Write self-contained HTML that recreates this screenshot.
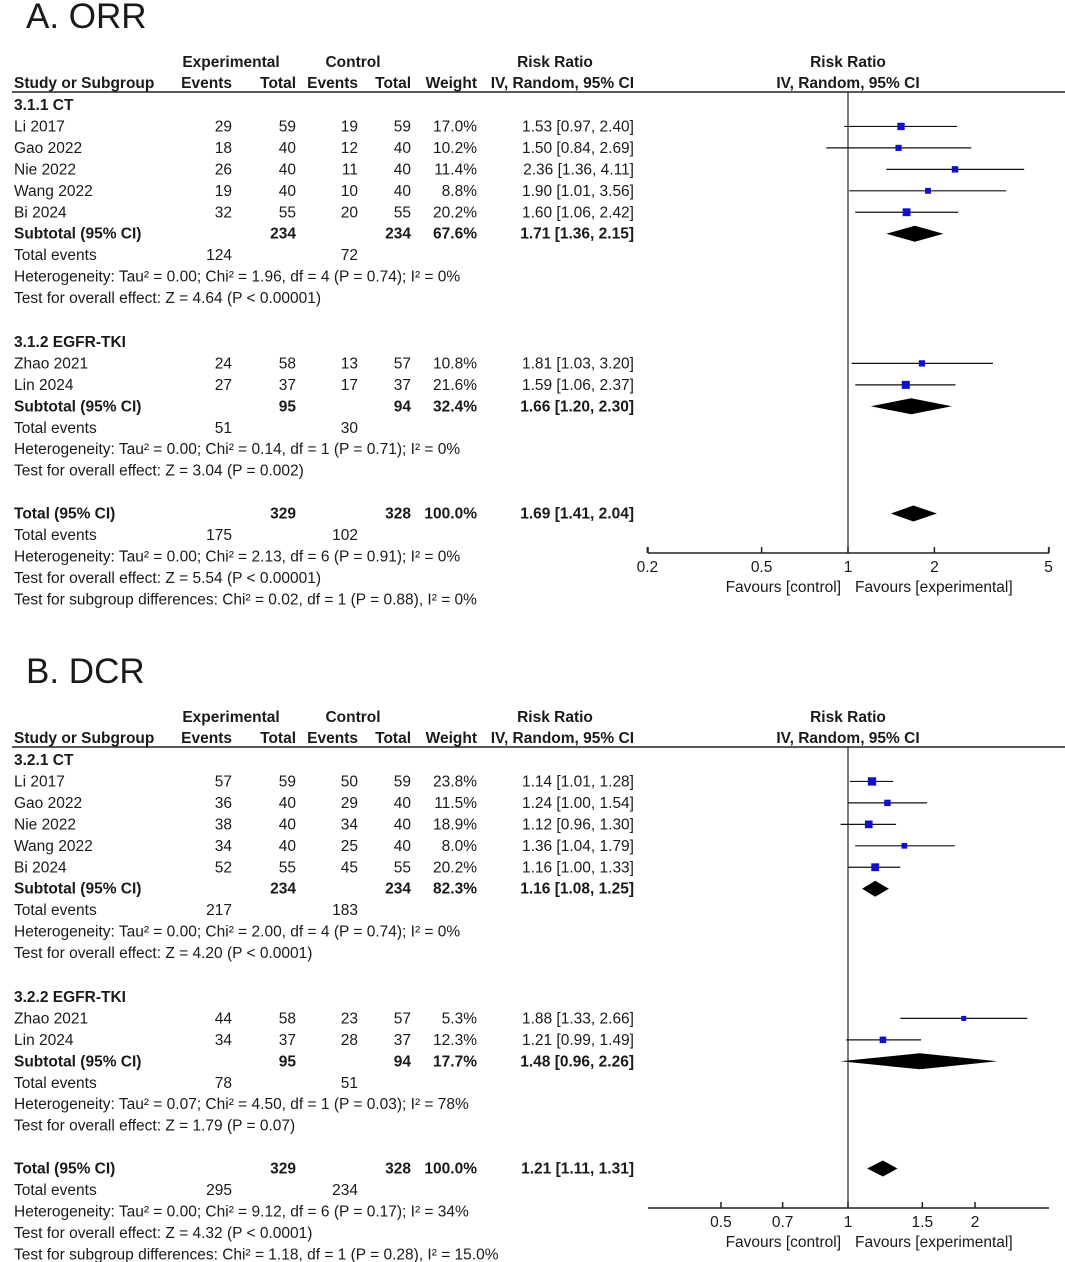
<!DOCTYPE html>
<html><head><meta charset="utf-8">
<style>
body{margin:0;background:#fff;}
svg{display:block;font-family:"Liberation Sans",Arial,sans-serif;}
text{fill:#1a1a1a;font-size:15.5px;}
.b{font-weight:bold;}
</style></head>
<body>
<svg id="chart" width="1065" height="1262" viewBox="0 0 1065 1262"></svg>
<script>
// Panel A (ORR)
const aStudies=["Li 2017","Gao 2022","Nie 2022","Wang 2022","Bi 2024","Zhao 2021","Lin 2024"];
const aExpEvents=[29,18,26,19,32,24,27];
const aExpTotal=[59,40,40,40,55,58,37];
const aCtlEvents=[19,12,11,10,20,13,17];
const aCtlTotal=[59,40,40,40,55,57,37];
const aWeight=[17.0,10.2,11.4,8.8,20.2,10.8,21.6];
const aRR=[1.53,1.50,2.36,1.90,1.60,1.81,1.59];
const aLo=[0.97,0.84,1.36,1.01,1.06,1.03,1.06];
const aHi=[2.40,2.69,4.11,3.56,2.42,3.20,2.37];
const aSub=[[1.71,1.36,2.15],[1.66,1.20,2.30],[1.69,1.41,2.04]];
const aTicks=[0.2,0.5,1,2,5];
// Panel B (DCR)
const bStudies=["Li 2017","Gao 2022","Nie 2022","Wang 2022","Bi 2024","Zhao 2021","Lin 2024"];
const bExpEvents=[57,36,38,34,52,44,34];
const bExpTotal=[59,40,40,40,55,58,37];
const bCtlEvents=[50,29,34,25,45,23,28];
const bCtlTotal=[59,40,40,40,55,57,37];
const bWeight=[23.8,11.5,18.9,8.0,20.2,5.3,12.3];
const bRR=[1.14,1.24,1.12,1.36,1.16,1.88,1.21];
const bLo=[1.01,1.00,0.96,1.04,1.00,1.33,0.99];
const bHi=[1.28,1.54,1.30,1.79,1.33,2.66,1.49];
const bSub=[[1.16,1.08,1.25],[1.48,0.96,2.26],[1.21,1.11,1.31]];
const bTicks=[0.5,0.7,1,1.5,2];

const svg=document.getElementById('chart');
const NS='http://www.w3.org/2000/svg';
function el(tag,attrs,parent){const e=document.createElementNS(NS,tag);for(const k in attrs)e.setAttribute(k,attrs[k]);(parent||svg).appendChild(e);return e;}
function txt(x,y,s,anchor,cls,parent){const t=el('text',{x:x,y:y,'text-anchor':anchor||'start'},parent);if(cls)t.setAttribute('class',cls);t.textContent=s;return t;}
const f2=v=>v.toFixed(2);
function ci(r,l,h){return f2(r)+' ['+f2(l)+', '+f2(h)+']';}

function panel(o){
  const g=el('g',{});
  
  
  const Y=o.y0; const st=21.45;
  const tt=txt(26,Y-64,o.title,'start',null,g);tt.setAttribute('style','font-size:35px');
  
  
  const xs=v=>848+Math.log10(v)*o.k;
  // headers
  txt(231,Y-25,'Experimental','middle','b',g);
  txt(353,Y-25,'Control','middle','b',g);
  txt(555,Y-25,'Risk Ratio','middle','b',g);
  txt(848,Y-25,'Risk Ratio','middle','b',g);
  txt(14,Y-4,'Study or Subgroup','start','b',g);
  txt(232,Y-4,'Events','end','b',g);
  txt(296,Y-4,'Total','end','b',g);
  txt(358,Y-4,'Events','end','b',g);
  txt(411,Y-4,'Total','end','b',g);
  txt(477,Y-4,'Weight','end','b',g);
  txt(634,Y-4,'IV, Random, 95% CI','end','b',g);
  txt(848,Y-4,'IV, Random, 95% CI','middle','b',g);
  const hl=el('line',{x1:12,x2:1065,y1:Y,y2:Y,stroke:'#222','stroke-width':1.5},g);
  
  
  const axY=Y+461;
  const vl=el('line',{x1:848,x2:848,y1:Y,y2:axY,stroke:'#222','stroke-width':1.2},g);
  
  
  const rowY=i=>Y+18+i*st;
  const layout=[['grp',0],['s',0],['s',1],['s',2],['s',3],['s',4],['sub',0],['te',0],['het',0],['test',0],['blank'],['grp',1],['s',5],['s',6],['sub',1],['te',1],['het',1],['test',1],['blank'],['tot',2],['te',2],['het',2],['test',2],['sd']];
  layout.forEach((L,i)=>{
    const y=rowY(i)+(i>=11?1:0);
    const t=L[0],j=L[1];
    if(t==='grp'){txt(14,y,o.groups[j],'start','b',g);}
    else if(t==='s'){
      const row=el('g',{},g);
      
      
      txt(14,y,o.studies[j],'start',null,row);
      txt(232,y,o.ee[j],'end',null,row);txt(296,y,o.et[j],'end',null,row);
      txt(358,y,o.ce[j],'end',null,row);txt(411,y,o.ct[j],'end',null,row);
      txt(477,y,o.w[j].toFixed(1)+'%','end',null,row);
      txt(634,y,ci(o.rr[j],o.lo[j],o.hi[j]),'end',null,row);
      const cy=y-5;
      const wl=el('line',{x1:Math.max(648,xs(o.lo[j])),x2:Math.min(1049,xs(o.hi[j])),y1:cy,y2:cy,stroke:'#111','stroke-width':1.2},row);
      
      
      const s=2+Math.sqrt(o.w[j])*1.3;
      const sq=el('rect',{x:xs(o.rr[j])-s/2,y:cy-s/2,width:s,height:s,fill:'#1010c8'},row);
      
      
    }
    else if(t==='sub'||t==='tot'){
      const lab=t==='sub'?'Subtotal (95% CI)':'Total (95% CI)';
      txt(14,y,lab,'start','b',g);
      const tots=t==='sub'?o.subTot[j]:o.subTot[2];
      txt(296,y,tots[0],'end','b',g);txt(411,y,tots[1],'end','b',g);
      txt(477,y,o.subW[j],'end','b',g);
      const sv=o.sub[j];
      txt(634,y,ci(sv[0],sv[1],sv[2]),'end','b',g);
      const cy=y-5;
      const d=el('polygon',{points:[xs(sv[1])+','+cy,xs(sv[0])+','+(cy-8),xs(sv[2])+','+cy,xs(sv[0])+','+(cy+8)].join(' '),fill:'#000'},g);
      
      
    }
    else if(t==='te'){txt(14,y,'Total events','start',null,g);txt(232,y,o.te[j][0],'end',null,g);txt(358,y,o.te[j][1],'end',null,g);}
    else if(t==='het'){txt(14,y,o.het[j],'start',null,g);}
    else if(t==='test'){txt(14,y,o.test[j],'start',null,g);}
    else if(t==='sd'){txt(14,y,o.sd,'start',null,g);}
  });
  const ax=el('g',{},g);
  
  
  el('line',{x1:648,x2:1049,y1:axY,y2:axY,stroke:'#222','stroke-width':1.5},ax);
  if(o.endTicks){el('line',{x1:648,x2:648,y1:axY-6,y2:axY,stroke:'#222','stroke-width':1.5},ax);el('line',{x1:1049,x2:1049,y1:axY-6,y2:axY,stroke:'#222','stroke-width':1.5},ax);}
  o.ticks.forEach(v=>{
    const x=xs(v);
    el('line',{x1:x,x2:x,y1:axY-6,y2:axY,stroke:'#222','stroke-width':1.5},ax);
    const tl=txt(x,axY+19,String(v),'middle',null,ax);
    
    
  });
  txt(841,axY+39,'Favours [control]','end',null,ax);
  txt(855,axY+39,'Favours [experimental]','start',null,ax);
}

panel({name:'panel-a-orr',title:'A. ORR',y0:92,k:287,endTicks:true,
  groups:['3.1.1 CT','3.1.2 EGFR-TKI'],studies:aStudies,ee:aExpEvents,et:aExpTotal,ce:aCtlEvents,ct:aCtlTotal,
  w:aWeight,rr:aRR,lo:aLo,hi:aHi,sub:aSub,ticks:aTicks,
  subTot:[[234,234],[95,94],[329,328]],subW:['67.6%','32.4%','100.0%'],te:[[124,72],[51,30],[175,102]],
  het:['Heterogeneity: Tau² = 0.00; Chi² = 1.96, df = 4 (P = 0.74); I² = 0%','Heterogeneity: Tau² = 0.00; Chi² = 0.14, df = 1 (P = 0.71); I² = 0%','Heterogeneity: Tau² = 0.00; Chi² = 2.13, df = 6 (P = 0.91); I² = 0%'],
  test:['Test for overall effect: Z = 4.64 (P < 0.00001)','Test for overall effect: Z = 3.04 (P = 0.002)','Test for overall effect: Z = 5.54 (P < 0.00001)'],
  sd:'Test for subgroup differences: Chi² = 0.02, df = 1 (P = 0.88), I² = 0%'});
panel({name:'panel-b-dcr',title:'B. DCR',y0:747,k:422,endTicks:false,
  groups:['3.2.1 CT','3.2.2 EGFR-TKI'],studies:bStudies,ee:bExpEvents,et:bExpTotal,ce:bCtlEvents,ct:bCtlTotal,
  w:bWeight,rr:bRR,lo:bLo,hi:bHi,sub:bSub,ticks:bTicks,
  subTot:[[234,234],[95,94],[329,328]],subW:['82.3%','17.7%','100.0%'],te:[[217,183],[78,51],[295,234]],
  het:['Heterogeneity: Tau² = 0.00; Chi² = 2.00, df = 4 (P = 0.74); I² = 0%','Heterogeneity: Tau² = 0.07; Chi² = 4.50, df = 1 (P = 0.03); I² = 78%','Heterogeneity: Tau² = 0.00; Chi² = 9.12, df = 6 (P = 0.17); I² = 34%'],
  test:['Test for overall effect: Z = 4.20 (P < 0.0001)','Test for overall effect: Z = 1.79 (P = 0.07)','Test for overall effect: Z = 4.32 (P < 0.0001)'],
  sd:'Test for subgroup differences: Chi² = 1.18, df = 1 (P = 0.28), I² = 15.0%'});
</script>
</body></html>
